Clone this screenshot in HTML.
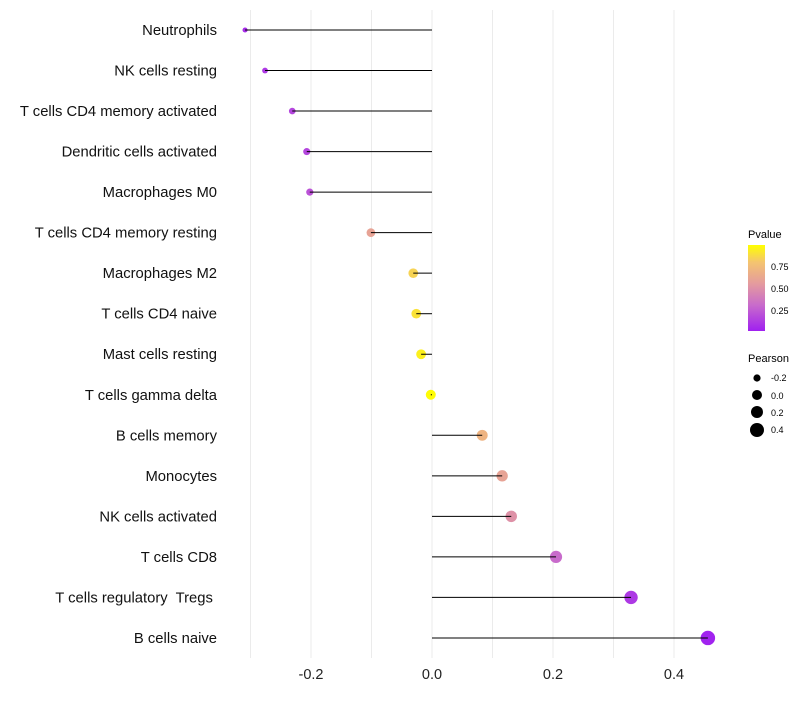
<!DOCTYPE html>
<html><head><meta charset="utf-8"><style>
body{margin:0;background:#fff;font-family:"Liberation Sans",sans-serif}
text{white-space:pre}
</style></head><body>
<svg id="chart" width="800" height="700" xmlns="http://www.w3.org/2000/svg" xml:space="preserve">
<defs><linearGradient id="pg" x1="0" y1="1" x2="0" y2="0">
<stop offset="0" stop-color="#A020F0"/><stop offset="0.3" stop-color="#C86BCB"/><stop offset="0.55" stop-color="#E49B9E"/><stop offset="0.8" stop-color="#F4C470"/><stop offset="1" stop-color="#FFFF00"/></linearGradient></defs>
<g id="grid"></g><g id="points"></g><g id="marks"></g><g id="labels"></g>
<g>
<text x="748" y="238" font-size="11" fill="#000">Pvalue</text>
<rect x="748" y="245" width="17" height="86" fill="url(#pg)"/>
<text x="771" y="270" font-size="9">0.75</text><text x="771" y="292" font-size="9">0.50</text><text x="771" y="314" font-size="9">0.25</text>
</g>
<g>
<text x="748" y="362" font-size="11">Pearson</text>
<circle cx="757" cy="378" r="3.6"/><text x="771" y="381" font-size="9">-0.2</text>
<circle cx="757" cy="395" r="5"/><text x="771" y="399" font-size="9">0.0</text>
<circle cx="757" cy="412" r="6"/><text x="771" y="416" font-size="9">0.2</text>
<circle cx="757" cy="430" r="7"/><text x="771" y="433" font-size="9">0.4</text>
</g>
</svg>
<script>
const categories=["Neutrophils","NK cells resting","T cells CD4 memory activated","Dendritic cells activated","Macrophages M0","T cells CD4 memory resting","Macrophages M2","T cells CD4 naive","Mast cells resting","T cells gamma delta","B cells memory","Monocytes","NK cells activated","T cells CD8","T cells regulatory  Tregs ","B cells naive"];
const pearson=[-0.309,-0.276,-0.231,-0.207,-0.202,-0.101,-0.031,-0.026,-0.018,-0.002,0.083,0.116,0.131,0.205,0.329,0.456];
const pvalues=[0.05,0.1,0.15,0.15,0.2,0.6,0.85,0.9,0.95,0.99,0.7,0.6,0.5,0.3,0.1,0.01];
const xTicks=[-0.2,0,0.2,0.4];
const xTickLabels=["-0.2","0.0","0.2","0.4"];
const NS="http://www.w3.org/2000/svg";
const X=v=>432+v*605;
const Y=i=>30+i*40.53;
function col(p){const st=[[0,[160,32,240]],[0.3,[200,107,203]],[0.55,[228,155,158]],[0.8,[244,196,112]],[1,[255,255,0]]];
for(let k=1;k<st.length;k++){if(p<=st[k][0]){const a=st[k-1],b=st[k],t=(p-a[0])/(b[0]-a[0]);return "rgb("+a[1].map((c,j)=>Math.round(c+(b[1][j]-c)*t)).join(",")+")";}}return "rgb(255,255,0)";}
function mk(t,at,par){const e=document.createElementNS(NS,t);for(const k in at)e.setAttribute(k,at[k]);document.getElementById(par).appendChild(e);return e;}
[-0.3,-0.2,-0.1,0,0.1,0.2,0.3,0.4].forEach(v=>{const g=mk("line",{x1:X(v),x2:X(v),y1:10,y2:658,stroke:"#ebebeb","stroke-width":1},"grid");

});
xTicks.forEach((v,i)=>{const t=mk("text",{x:X(v),y:679,"font-size":14.5,"text-anchor":"middle",fill:"#222"},"labels");t.textContent=xTickLabels[i];

});
categories.forEach((c,i)=>{const y=Y(i);
const t=mk("text",{x:217,y:y+5,"font-size":14.8,"text-anchor":"end",fill:"#111"},"labels");t.textContent=c;


const r=Math.sqrt(Math.max(4,25+60*pearson[i]));
const d=mk("circle",{cx:X(pearson[i]),cy:y,r:r,fill:col(pvalues[i])},"points");


const l=mk("line",{x1:X(0),x2:X(pearson[i]),y1:y,y2:y,stroke:"#000","stroke-width":1},"marks");

});
</script>
</body></html>
